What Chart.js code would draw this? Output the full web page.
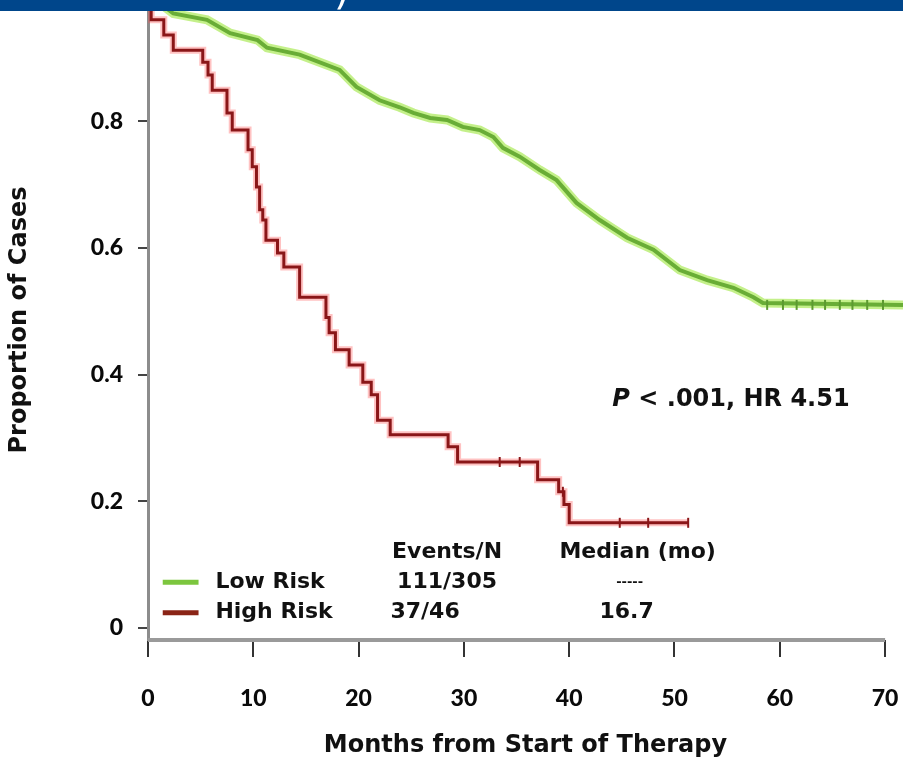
<!DOCTYPE html>
<html>
<head>
<meta charset="utf-8">
<script src="https://cdn.jsdelivr.net/npm/chart.js@4"></script>
<style>
  html, body { margin: 0; padding: 0; background: #fff; }
</style>
</head>
<body>
<canvas id="km" width="903" height="761"></canvas>
<script>
// Kaplan-Meier curves (months, proportion)
const lowT = [0, 2.4, 5.6, 7.8, 10.4, 11.3, 14.4, 18.2, 19.8, 22.0, 23.9, 25.2, 26.8, 28.4, 29.9, 31.5, 32.8, 33.7, 35.3, 37.2, 38.8, 40.7, 42.9, 45.5, 48.0, 50.5, 53.1, 55.6, 57.5, 58.4, 71.7];
const lowS = [1.0, 0.970, 0.960, 0.939, 0.928, 0.916, 0.905, 0.881, 0.854, 0.833, 0.822, 0.813, 0.805, 0.802, 0.791, 0.786, 0.775, 0.758, 0.744, 0.723, 0.707, 0.671, 0.644, 0.616, 0.597, 0.565, 0.549, 0.537, 0.522, 0.513, 0.510];

const highT = [0, 0.3, 1.5, 2.4, 5.2, 5.7, 6.1, 7.5, 8.0, 9.5, 9.9, 10.3, 10.6, 10.9, 11.2, 12.3, 12.9, 14.4, 16.9, 17.2, 17.8, 19.1, 20.4, 21.2, 21.8, 23.0, 28.5, 29.4, 37.0, 39.0, 39.5, 40.0, 51.3];
const highS = [1.0, 0.960, 0.936, 0.912, 0.893, 0.873, 0.849, 0.813, 0.786, 0.755, 0.728, 0.696, 0.660, 0.644, 0.612, 0.592, 0.570, 0.522, 0.490, 0.466, 0.439, 0.415, 0.388, 0.368, 0.328, 0.305, 0.286, 0.262, 0.234, 0.215, 0.195, 0.166, 0.166];

// censored cases (tick marks)
const lowCensT = [58.8, 60.3, 61.6, 63.1, 64.3, 65.7, 66.9, 68.3, 69.8];
const lowCensS = [0.51, 0.51, 0.51, 0.51, 0.51, 0.51, 0.51, 0.51, 0.51];
const highCensT = [33.4, 35.3, 39.4, 44.8, 47.5, 51.3];
const highCensS = [0.262, 0.262, 0.215, 0.166, 0.166, 0.166];

const xTicks = [0, 10, 20, 30, 40, 50, 60, 70];
const yTicks = [0, 0.2, 0.4, 0.6, 0.8];

const groups = ["Low Risk", "High Risk"];
const eventsN = ["111/305", "37/46"];
const medians = ["-----", "16.7"];
const statText = ", HR 4.51";

const GREEN = "#69ad36";
const RED = "#8a1618";
const TXT = "DejaVu Sans";
const NUM = "Lato";

function pts(xs, ys) {
  return xs.map((x, i) => ({ x: x, y: ys[i] }));
}

// no extra room for edge labels: the plot runs to the canvas edges
function noPad(s) {
  s.paddingTop = 0; s.paddingBottom = 0;
  s.paddingLeft = 0; s.paddingRight = 0;
}

// table + p-value + header band
const annotations = {
  id: "annotations",
  afterDraw(chart) {
    const ctx = chart.ctx;
    const xs = chart.scales.x, ys = chart.scales.y;
    ctx.save();

    // x axis line, 0..70 only
    ctx.strokeStyle = "#9a9a9a";
    ctx.lineWidth = 4;
    ctx.beginPath();
    ctx.moveTo(xs.getPixelForValue(0), chart.chartArea.bottom);
    ctx.lineTo(xs.getPixelForValue(70), chart.chartArea.bottom);
    ctx.stroke();

    ctx.fillStyle = "#111";
    ctx.textBaseline = "middle";

    // P < .001, HR 4.51
    let px = xs.getPixelForValue(44.1), py = ys.getPixelForValue(0.36);
    ctx.textAlign = "left";
    ctx.font = "italic bold 24px " + TXT;
    ctx.fillText("P", px, py);
    px += ctx.measureText("P").width;
    ctx.font = "bold 24px " + TXT;
    ctx.fillText(" < .001" + statText, px, py);

    // table
    ctx.font = "bold 22px " + TXT;
    ctx.textAlign = "center";
    const colEv = xs.getPixelForValue(28.4), colMed = xs.getPixelForValue(46.5);
    const hy = ys.getPixelForValue(0.119);
    ctx.fillText("Events/N", colEv, hy);
    ctx.fillText("Median (mo)", colMed, hy);
    const rowV = [0.072, 0.024];
    groups.forEach((g, i) => {
      const ry = ys.getPixelForValue(rowV[i]);
      ctx.strokeStyle = i === 0 ? "#7cc63e" : "#8a2416";
      ctx.lineWidth = 5;
      ctx.beginPath();
      ctx.moveTo(xs.getPixelForValue(1.4), ry);
      ctx.lineTo(xs.getPixelForValue(4.8), ry);
      ctx.stroke();
      ctx.fillStyle = "#111";
      ctx.textAlign = "left";
      ctx.fillText(g, xs.getPixelForValue(6.4), ry);
      ctx.textAlign = "center";
      ctx.fillText(eventsN[i], i === 0 ? colEv : colEv - 22, ry);
      if (i === 0) {
        ctx.font = "bold 13px " + TXT;
        ctx.fillText(medians[i], colMed - 8, ry);
        ctx.font = "bold 22px " + TXT;
      } else {
        ctx.fillText(medians[i], colMed - 11, ry);
      }
    });

    // cropped header band
    ctx.fillStyle = "#00468b";
    ctx.fillRect(0, 0, chart.width, 11);
    ctx.beginPath();
    ctx.rect(0, 0, chart.width, 11);
    ctx.clip();
    ctx.fillStyle = "#fff";
    ctx.font = "40px " + TXT;
    ctx.textAlign = "left";
    ctx.textBaseline = "alphabetic";
    ctx.fillText(")", 334, 4);
    ctx.restore();
  }
};

new Chart("km", {
  type: "line",
  data: {
    datasets: [{
      label: "Low Risk halo",
      data: pts(lowT, lowS),
      borderColor: "rgba(165,232,75,0.65)",
      borderWidth: 9,
      pointRadius: 0,
      order: 4
    }, {
      label: "High Risk halo",
      data: pts(highT, highS),
      stepped: "before",
      borderColor: "rgba(255,80,80,0.35)",
      borderWidth: 7,
      pointRadius: 0,
      order: 3
    }, {
      label: groups[0],
      data: pts(lowT, lowS),
      borderColor: GREEN,
      borderWidth: 4,
      pointRadius: 0,
      order: 2
    }, {
      label: groups[1],
      data: pts(highT, highS),
      stepped: "before",
      borderColor: RED,
      borderWidth: 3,
      pointRadius: 0,
      order: 1
    }, {
      label: "Low censored",
      data: pts(lowCensT, lowCensS),
      showLine: false,
      pointStyle: "line",
      rotation: 90,
      pointRadius: 5,
      pointBorderWidth: 2,
      pointBorderColor: "#5c9a30",
      order: 0
    }, {
      label: "High censored",
      data: pts(highCensT, highCensS),
      showLine: false,
      pointStyle: "line",
      rotation: 90,
      pointRadius: 5,
      pointBorderWidth: 2,
      pointBorderColor: RED,
      order: 0
    }]
  },
  options: {
    responsive: false,
    animation: false,
    layout: { padding: 0, autoPadding: false },
    plugins: {
      legend: { display: false },
      tooltip: { enabled: false }
    },
    scales: {
      x: {
        type: "linear",
        min: 0,
        max: 71.7,
        afterBuildTicks: s => { s.ticks = xTicks.map(v => ({ value: v })); },
        afterFit: s => { s.height = 121; noPad(s); },
        border: { display: false },
        grid: { drawOnChartArea: false, tickLength: 17, color: "#333", lineWidth: 2 },
        ticks: {
          autoSkip: false,
          maxRotation: 0,
          padding: 28,
          color: "#0a0a0a",
          font: { family: NUM, weight: "900", size: 23 }
        },
        title: {
          display: true,
          text: "Months from Start of Therapy",
          color: "#111",
          font: { family: TXT, weight: "bold", size: 24 },
          padding: { top: 0, bottom: 1 }
        }
      },
      y: {
        min: -0.019,
        max: 0.9913,
        afterBuildTicks: s => { s.ticks = yTicks.map(v => ({ value: v })); },
        afterFit: s => { s.width = 148; noPad(s); },
        border: { display: true, color: "#8c8c8c", width: 3 },
        grid: { drawOnChartArea: false, tickLength: 10, color: "#444", lineWidth: 2 },
        ticks: {
          padding: 15,
          color: "#0a0a0a",
          font: { family: NUM, weight: "900", size: 23 },
          callback: v => (v === 0 ? "0" : v.toFixed(1))
        },
        title: {
          display: true,
          text: "Proportion of Cases",
          color: "#111",
          font: { family: TXT, weight: "bold", size: 24 },
          padding: { top: 5, bottom: 0 }
        }
      }
    }
  },
  plugins: [annotations]
});
</script>
</body>
</html>
